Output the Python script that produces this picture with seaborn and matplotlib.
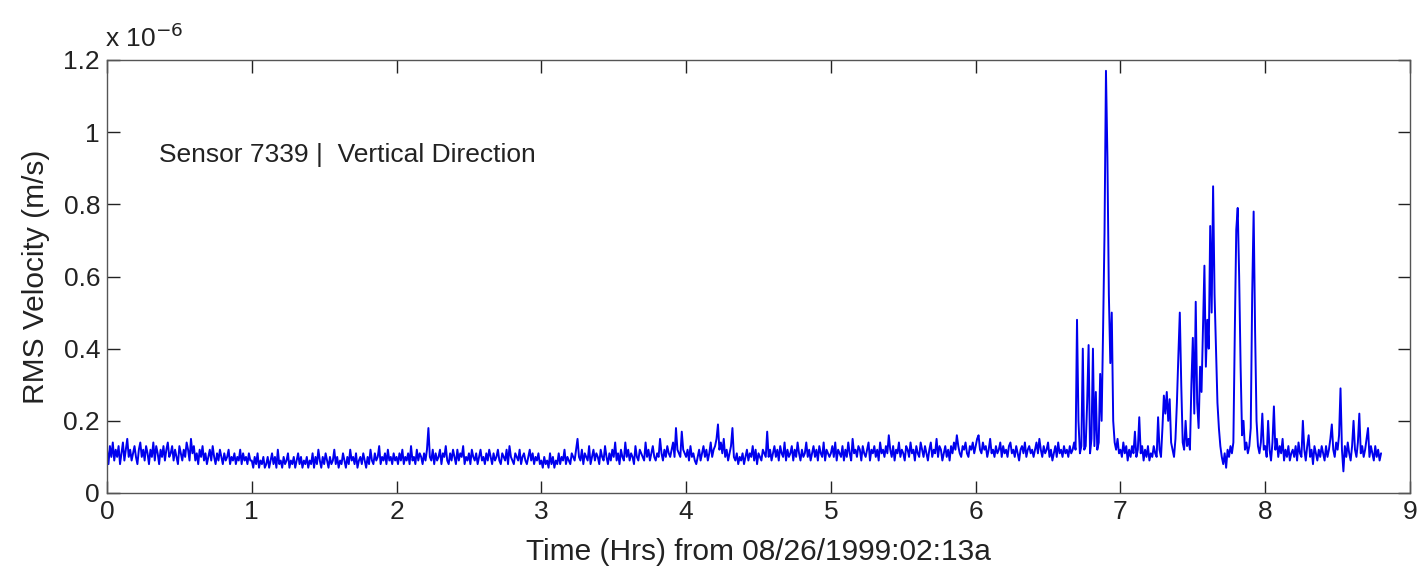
import numpy as np
import matplotlib
matplotlib.use("Agg")
import matplotlib.pyplot as plt
import seaborn as sns

# RMS velocity in units of 1e-6 m/s, sampled every 0.01 h starting at 0 h
v_h0 = [0.12,0.08,0.13,0.10,0.14,0.09,0.12,0.10,0.13,0.08,
        0.11,0.14,0.09,0.12,0.15,0.10,0.12,0.09,0.11,0.13,
        0.10,0.08,0.12,0.14,0.10,0.12,0.09,0.13,0.11,0.08,
        0.12,0.10,0.14,0.09,0.13,0.11,0.08,0.12,0.10,0.13,
        0.09,0.12,0.14,0.10,0.11,0.13,0.09,0.12,0.10,0.08,
        0.13,0.11,0.09,0.12,0.10,0.14,0.12,0.09,0.15,0.11,
        0.13,0.09,0.11,0.08,0.12,0.10,0.13,0.09,0.11,0.08,
        0.10,0.12,0.09,0.13,0.10,0.08,0.11,0.09,0.12,0.10,
        0.08,0.11,0.09,0.10,0.12,0.08,0.10,0.09,0.11,0.08,
        0.10,0.09,0.12,0.08,0.11,0.09,0.10,0.08,0.11,0.09]
v_h1 = [0.09,0.07,0.10,0.08,0.11,0.07,0.09,0.08,0.10,0.07,
        0.08,0.10,0.07,0.09,0.11,0.08,0.10,0.07,0.12,0.08,
        0.09,0.07,0.10,0.08,0.09,0.11,0.07,0.09,0.08,0.10,
        0.07,0.09,0.11,0.08,0.10,0.07,0.09,0.08,0.10,0.07,
        0.09,0.08,0.11,0.07,0.10,0.08,0.12,0.09,0.07,0.10,
        0.08,0.11,0.09,0.07,0.10,0.08,0.09,0.12,0.08,0.10,
        0.07,0.09,0.08,0.11,0.09,0.07,0.10,0.08,0.12,0.09,
        0.10,0.08,0.11,0.07,0.09,0.10,0.08,0.11,0.09,0.07,
        0.10,0.08,0.12,0.09,0.08,0.11,0.09,0.10,0.13,0.08,
        0.10,0.09,0.11,0.08,0.12,0.09,0.10,0.08,0.11,0.09]
v_h2 = [0.10,0.08,0.11,0.09,0.12,0.08,0.10,0.09,0.11,0.08,
        0.13,0.09,0.10,0.08,0.12,0.09,0.11,0.10,0.08,0.11,
        0.09,0.12,0.18,0.10,0.09,0.12,0.08,0.11,0.09,0.10,
        0.12,0.08,0.11,0.10,0.13,0.09,0.08,0.11,0.09,0.12,
        0.10,0.08,0.12,0.09,0.11,0.10,0.13,0.08,0.10,0.09,
        0.11,0.08,0.12,0.10,0.09,0.11,0.08,0.10,0.12,0.09,
        0.10,0.08,0.11,0.09,0.12,0.10,0.08,0.11,0.09,0.10,
        0.12,0.09,0.08,0.11,0.10,0.09,0.12,0.08,0.13,0.10,
        0.09,0.08,0.11,0.10,0.09,0.12,0.08,0.10,0.11,0.09,
        0.08,0.10,0.12,0.09,0.11,0.08,0.10,0.09,0.11,0.08]
v_h3 = [0.09,0.07,0.10,0.08,0.09,0.07,0.11,0.08,0.10,0.07,
        0.09,0.08,0.11,0.08,0.10,0.09,0.12,0.08,0.10,0.09,
        0.08,0.11,0.10,0.09,0.12,0.15,0.10,0.09,0.12,0.08,
        0.11,0.10,0.09,0.13,0.08,0.10,0.12,0.09,0.11,0.10,
        0.08,0.12,0.10,0.09,0.13,0.10,0.08,0.11,0.09,0.12,
        0.10,0.14,0.09,0.11,0.08,0.12,0.10,0.09,0.14,0.10,
        0.12,0.09,0.11,0.10,0.08,0.13,0.10,0.09,0.12,0.11,
        0.10,0.09,0.14,0.10,0.12,0.09,0.11,0.13,0.10,0.09,
        0.11,0.10,0.15,0.11,0.09,0.12,0.10,0.13,0.11,0.10,
        0.12,0.14,0.10,0.18,0.12,0.11,0.10,0.17,0.12,0.11]
v_h4 = [0.10,0.12,0.09,0.13,0.10,0.11,0.09,0.08,0.10,0.12,
        0.09,0.11,0.13,0.10,0.12,0.09,0.11,0.14,0.10,0.12,
        0.13,0.15,0.19,0.12,0.14,0.11,0.15,0.10,0.12,0.09,
        0.11,0.13,0.18,0.10,0.09,0.11,0.08,0.10,0.09,0.11,
        0.08,0.10,0.12,0.09,0.11,0.10,0.13,0.09,0.12,0.08,
        0.11,0.10,0.09,0.12,0.11,0.10,0.17,0.10,0.12,0.09,
        0.11,0.13,0.10,0.12,0.09,0.13,0.11,0.10,0.14,0.09,
        0.12,0.10,0.11,0.13,0.09,0.12,0.10,0.14,0.11,0.09,
        0.12,0.10,0.11,0.14,0.10,0.12,0.09,0.11,0.13,0.10,
        0.12,0.09,0.13,0.11,0.10,0.14,0.09,0.12,0.11,0.10]
v_h5 = [0.11,0.13,0.10,0.14,0.09,0.12,0.11,0.10,0.13,0.09,
        0.12,0.10,0.14,0.11,0.09,0.15,0.11,0.12,0.10,0.13,
        0.12,0.09,0.13,0.11,0.10,0.12,0.14,0.09,0.12,0.11,
        0.13,0.10,0.12,0.09,0.14,0.11,0.12,0.10,0.13,0.11,
        0.16,0.12,0.10,0.13,0.09,0.12,0.11,0.14,0.10,0.12,
        0.11,0.09,0.13,0.12,0.10,0.14,0.11,0.12,0.09,0.13,
        0.11,0.10,0.14,0.12,0.10,0.13,0.11,0.09,0.12,0.14,
        0.10,0.12,0.11,0.15,0.10,0.13,0.12,0.09,0.11,0.13,
        0.10,0.12,0.09,0.13,0.11,0.14,0.12,0.16,0.13,0.11,
        0.10,0.13,0.12,0.14,0.11,0.10,0.13,0.12,0.14,0.11]
v_h6 = [0.13,0.15,0.16,0.12,0.11,0.14,0.12,0.13,0.10,0.12,
        0.15,0.11,0.12,0.10,0.13,0.11,0.12,0.14,0.10,0.13,
        0.11,0.12,0.10,0.13,0.14,0.11,0.12,0.10,0.13,0.11,
        0.09,0.12,0.13,0.11,0.14,0.10,0.12,0.13,0.11,0.12,
        0.10,0.12,0.14,0.11,0.15,0.12,0.10,0.13,0.11,0.12,
        0.14,0.10,0.12,0.09,0.11,0.13,0.10,0.14,0.11,0.12,
        0.10,0.13,0.11,0.12,0.10,0.13,0.11,0.12,0.14,0.12,
        0.48,0.20,0.11,0.13,0.40,0.12,0.13,0.25,0.41,0.11,
        0.15,0.40,0.13,0.28,0.12,0.14,0.33,0.20,0.45,0.72,
        1.17,0.93,0.55,0.36,0.50,0.20,0.14,0.12,0.15,0.11]
v_h7 = [0.12,0.10,0.14,0.11,0.13,0.09,0.12,0.10,0.13,0.11,
        0.17,0.10,0.12,0.21,0.11,0.13,0.09,0.12,0.10,0.13,
        0.09,0.11,0.10,0.13,0.11,0.10,0.21,0.12,0.10,0.18,
        0.27,0.22,0.28,0.20,0.26,0.14,0.12,0.10,0.15,0.25,
        0.38,0.50,0.30,0.14,0.12,0.20,0.13,0.15,0.12,0.30,
        0.43,0.22,0.53,0.25,0.18,0.35,0.28,0.45,0.63,0.35,
        0.48,0.40,0.74,0.50,0.85,0.55,0.40,0.25,0.18,0.13,
        0.10,0.08,0.11,0.07,0.12,0.10,0.13,0.11,0.14,0.45,
        0.73,0.79,0.60,0.35,0.16,0.20,0.12,0.14,0.11,0.13,
        0.18,0.55,0.78,0.45,0.20,0.13,0.11,0.14,0.22,0.12]
v_h8 = [0.13,0.10,0.20,0.12,0.09,0.14,0.24,0.12,0.15,0.10,
        0.13,0.11,0.15,0.09,0.12,0.10,0.13,0.09,0.11,0.12,
        0.10,0.13,0.09,0.14,0.11,0.10,0.20,0.12,0.09,0.13,
        0.16,0.10,0.12,0.08,0.13,0.11,0.09,0.12,0.10,0.13,
        0.11,0.09,0.13,0.10,0.12,0.15,0.19,0.12,0.10,0.14,
        0.12,0.16,0.29,0.12,0.06,0.13,0.10,0.14,0.11,0.09,
        0.13,0.20,0.12,0.10,0.14,0.22,0.11,0.13,0.10,0.12,
        0.15,0.18,0.10,0.13,0.11,0.09,0.13,0.10,0.12,0.09,
        0.11]

values = v_h0 + v_h1 + v_h2 + v_h3 + v_h4 + v_h5 + v_h6 + v_h7 + v_h8
t_start, t_step = 0.0, 0.01
hours = t_start + t_step * np.arange(len(values))

x_ticks = [0, 1, 2, 3, 4, 5, 6, 7, 8, 9]
y_ticks = [0, 0.2, 0.4, 0.6, 0.8, 1.0, 1.2]
y_tick_labels = ["0", "0.2", "0.4", "0.6", "0.8", "1", "1.2"]

sns.set_style("ticks")
plt.rcParams["font.family"] = ["Liberation Sans", "DejaVu Sans"]

fig = plt.figure(figsize=(14.24, 5.78), dpi=100)
ax = fig.add_axes([107/1424, 1 - 493/578, (1410-107)/1424, (493-60)/578])

sns.lineplot(x=hours, y=values, ax=ax, color="#0000ee", linewidth=1.4,
             estimator=None, sort=False)

ax.set_xlim(0, 9)
ax.set_ylim(0, 1.2)
ax.set_xticks(x_ticks)
ax.set_xticklabels([str(x) for x in x_ticks])
ax.set_yticks(y_ticks)
ax.set_yticklabels(y_tick_labels)
ax.tick_params(direction="in", length=9, width=1.0, top=True, right=True,
               labelsize=19, colors="#222222", pad=5)
for s in ax.spines.values():
    s.set_visible(True)
    s.set_linewidth(1.0)
    s.set_color("#555555")

ax.set_xlabel("Time (Hrs) from 08/26/1999:02:13a", fontsize=21.5, labelpad=10,
              color="#222222")
ax.set_ylabel("RMS Velocity (m/s)", fontsize=21.5, labelpad=10, color="#222222")

ax.text(0.04, 0.78, "Sensor 7339 |  Vertical Direction", transform=ax.transAxes,
        fontsize=19, va="center", ha="left", color="#222222")
fig.text(105/1424, 1 - 38/578, r"x 10$^{-6}$", fontsize=19, ha="left", va="center",
         color="#222222")

fig.savefig("out.png", dpi=100, facecolor="white")
